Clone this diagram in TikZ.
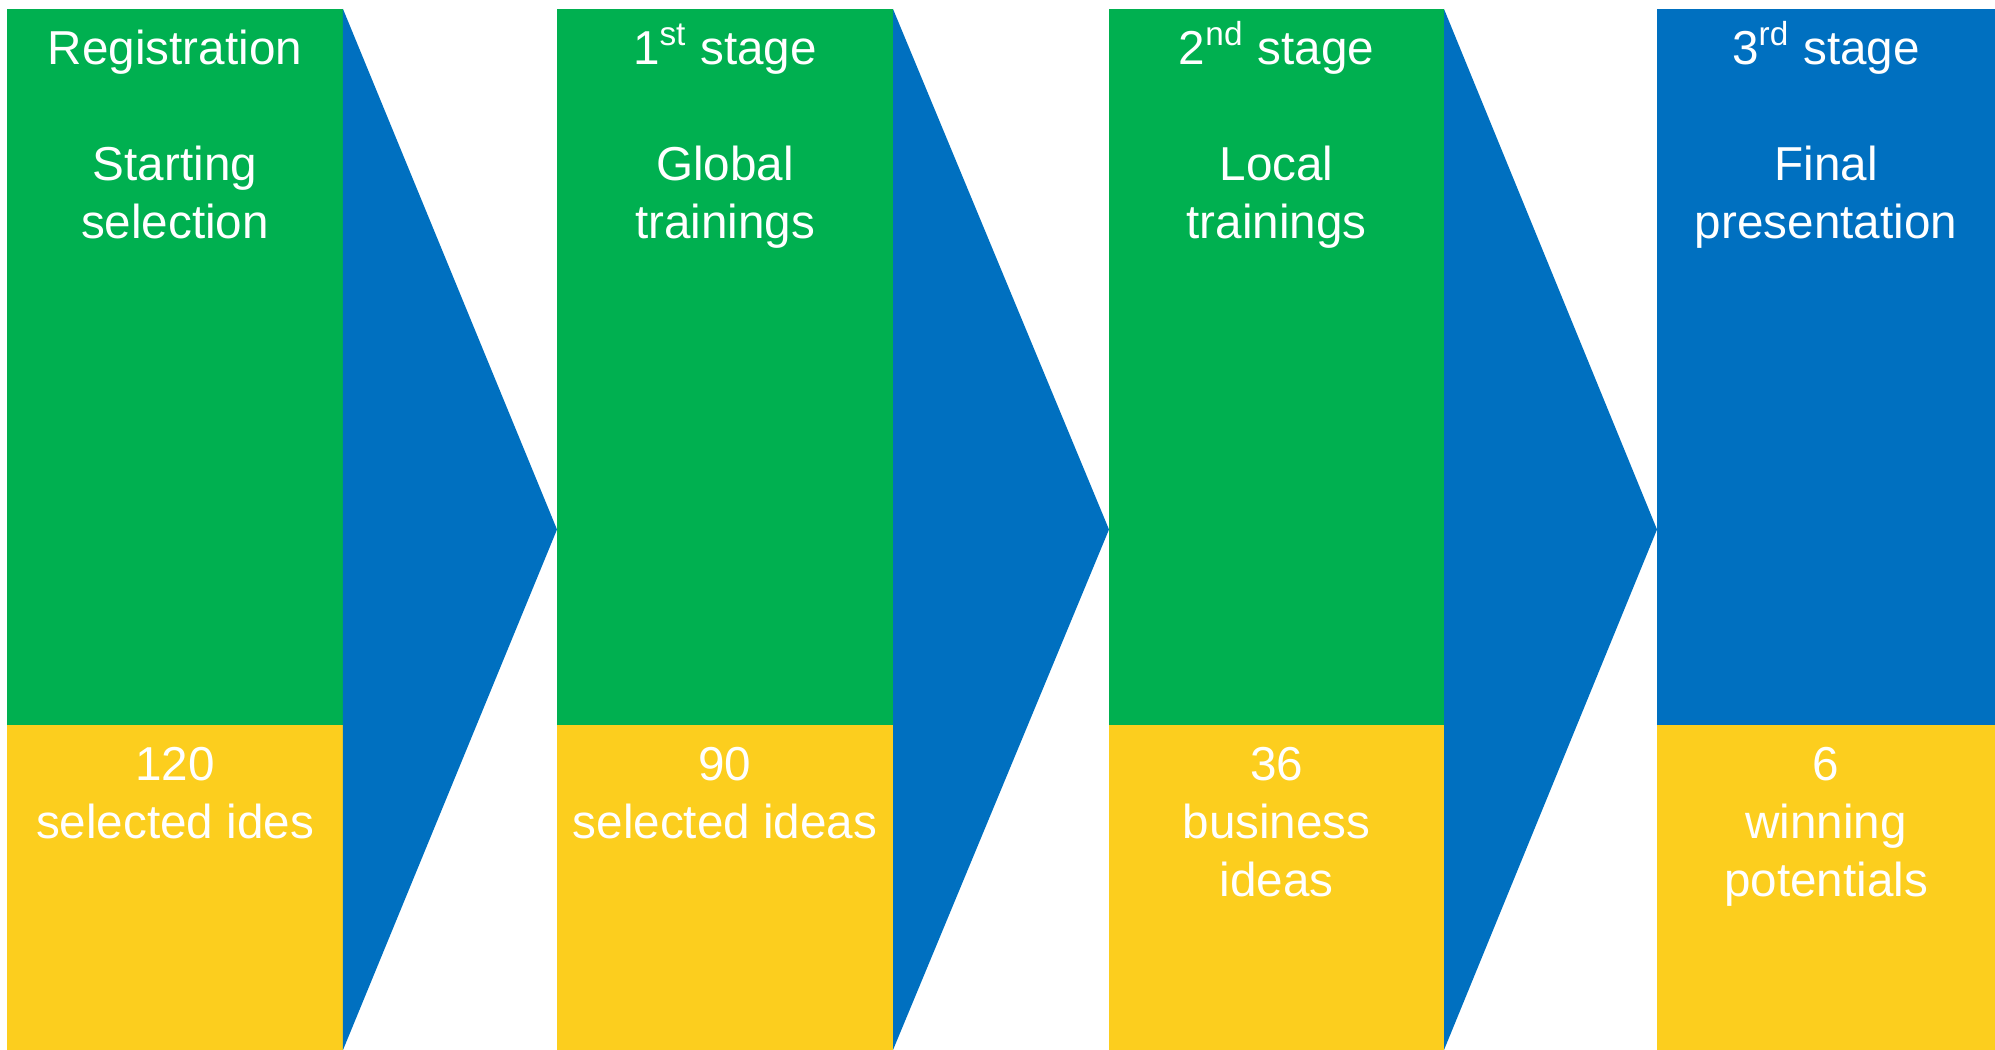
\documentclass[tikz,border=0pt]{standalone}
\usepackage{fontspec}
\setmainfont{Liberation Sans}
\definecolor{stagegreen}{HTML}{00B050}
\definecolor{stageblue}{HTML}{0070C0}
\definecolor{stageyellow}{HTML}{FCCE1E}
\newcommand{\stagesup}[1]{\smash{\textsuperscript{#1}}}
\tikzset{
  panel/.style={rectangle, inner sep=0pt, outer sep=0pt, minimum width=33.6mm, anchor=north west},
  toppanel/.style={panel, minimum height=71.6mm},
  botpanel/.style={panel, minimum height=32.5mm, fill=stageyellow},
  stagetext/.style={anchor=north, align=center, inner sep=0pt, text=white,
    font=\fontsize{13.55}{16.5}\selectfont}
}

\begin{document}
\begin{tikzpicture}[x=0.1mm, y=-0.1mm]
\useasboundingbox (0,0) rectangle (1995,1050);
% panels
\node[toppanel, fill=stagegreen] (regtop) at (7,9) {};
\node[botpanel] (regbot) at (7,725) {};
\node[toppanel, fill=stagegreen] (firsttop) at (557,9) {};
\node[botpanel] (firstbot) at (557,725) {};
\node[toppanel, fill=stagegreen, minimum width=33.5mm] (secondtop) at (1109,9) {};
\node[botpanel, minimum width=33.5mm] (secondbot) at (1109,725) {};
\node[toppanel, fill=stageblue, minimum width=33.8mm] (thirdtop) at (1657,9) {};
\node[botpanel, minimum width=33.8mm] (thirdbot) at (1657,725) {};
% arrows between the stages
\coordinate (tipone) at (557,529.5);
\coordinate (tiptwo) at (1109,529.5);
\coordinate (tipthree) at (1657,529.5);
\fill[stageblue] (regtop.north east) -- (tipone) -- (regbot.south east) -- cycle;
\fill[stageblue] (firsttop.north east) -- (tiptwo) -- (firstbot.south east) -- cycle;
\fill[stageblue] (secondtop.north east) -- (tipthree) -- (secondbot.south east) -- cycle;
% texts
\node[stagetext] (regtitle) at (175,23) {\strut Registration\\[16.5pt]Starting\\selection};
\node[stagetext] (firsttitle) at (725,23) {\strut 1\stagesup{st} stage\\[16.5pt]Global\\trainings};
\node[stagetext] (secondtitle) at (1276.5,23) {\strut 2\stagesup{nd} stage\\[16.5pt]Local\\trainings};
\node[stagetext] (thirdtitle) at (1826,23) {\strut 3\stagesup{rd} stage\\[16.5pt]Final\\presentation};
\node[stagetext] (regcount) at (175,739) {\strut 120\\selected ides};
\node[stagetext] (firstcount) at (725,739) {\strut 90\\selected ideas};
\node[stagetext] (secondcount) at (1276.5,739) {\strut 36\\business\\ideas};
\node[stagetext] (thirdcount) at (1826,739) {\strut 6\\winning\\potentials};
\end{tikzpicture}
\end{document}
